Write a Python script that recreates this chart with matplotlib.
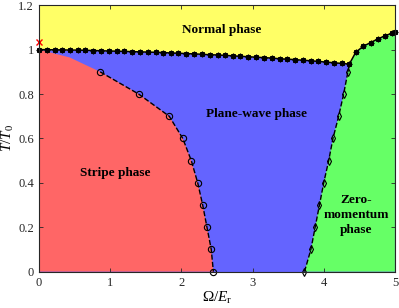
#! /usr/bin/env python3

import matplotlib
matplotlib.use("Agg")
import matplotlib.pyplot as plt

plt.rcParams["font.family"] = ["Liberation Serif", "DejaVu Serif"]
plt.rcParams["mathtext.fontset"] = "custom"
plt.rcParams["mathtext.rm"] = "Liberation Serif"
plt.rcParams["mathtext.it"] = "Liberation Serif:italic"

# normal / ordered boundary (stars)
normal_x = [0.00, 0.11, 0.22, 0.33, 0.44, 0.55, 0.65, 0.76, 0.87, 0.98, 1.09,
            1.20, 1.31, 1.42, 1.53, 1.64, 1.74, 1.85, 1.96, 2.07, 2.18, 2.29,
            2.40, 2.51, 2.62, 2.73, 2.83, 2.94, 3.05, 3.16, 3.27, 3.38, 3.49,
            3.60, 3.71, 3.82, 3.92, 4.03, 4.14, 4.25, 4.36,
            4.45, 4.555, 4.66, 4.76, 4.865, 4.96, 5.00]
normal_y = [1.000, 1.000, 0.999, 0.999, 0.998, 0.998, 0.997, 0.996, 0.995,
            0.994, 0.993, 0.992, 0.991, 0.990, 0.989, 0.988, 0.987, 0.985,
            0.984, 0.982, 0.981, 0.979, 0.977, 0.976, 0.974, 0.972, 0.970,
            0.968, 0.966, 0.964, 0.962, 0.959, 0.957, 0.955, 0.952, 0.950,
            0.947, 0.944, 0.941, 0.938, 0.935,
            0.988, 1.015, 1.032, 1.048, 1.063, 1.074, 1.078]

# stripe / plane-wave boundary (circles)
stripe_x = [0.86, 1.40, 1.83, 2.02, 2.14, 2.23, 2.30, 2.36, 2.42, 2.45]
stripe_y = [0.90, 0.80, 0.70, 0.60, 0.50, 0.40, 0.30, 0.20, 0.10, 0.00]
# unmarked top part of the stripe boundary
stripe_top_x = [0.00, 0.43]
stripe_top_y = [1.00, 0.965]

# plane-wave / zero-momentum boundary (diamonds)
zero_x = [3.73, 3.82, 3.88, 3.94, 4.00, 4.07, 4.13, 4.21, 4.28, 4.34, 4.36]
zero_y = [0.00, 0.10, 0.20, 0.30, 0.40, 0.50, 0.60, 0.70, 0.80, 0.90, 0.935]

red = "#FF6666"
blue = "#6464FF"
green = "#66FF66"
yellow = "#FFFF66"

fig = plt.figure(figsize=(3.99, 3.08), dpi=100)
ax = fig.add_axes([0.0977, 0.118, 0.892, 0.865])
ax.set_facecolor(yellow)

ax.fill_between(normal_x, 0, normal_y, color=blue, lw=0)

green_px = zero_x + normal_x[41:] + [5.0]
green_py = zero_y + normal_y[41:] + [0.0]
ax.fill(green_px, green_py, color=green, lw=0)

red_px = [0.0] + stripe_top_x + stripe_x + [0.0]
red_py = [0.0] + stripe_top_y + stripe_y + [0.0]
ax.fill(red_px, red_py, color=red, lw=0)

ax.plot(normal_x, normal_y, "k-", lw=1.1, marker=(8, 2, 0), ms=4,
        mew=0.9, clip_on=False)
ax.plot(stripe_x, stripe_y, "k--o", lw=1, ms=4.5, mfc="none", mew=0.8,
        clip_on=False)
ax.plot(zero_x[:-1], zero_y[:-1], "k--d", lw=1, ms=3.8, mfc="none",
        mew=0.8, clip_on=False)
ax.plot(zero_x[-2:], zero_y[-2:], "k--", lw=1)
ax.plot([0], [1.035], "rx", ms=5, mew=1, clip_on=False)

ax.text(2.57, 1.09, "Normal phase", ha="center", va="center",
        fontsize=9.5, fontweight="bold")
ax.text(3.05, 0.71, "Plane-wave phase", ha="center", va="center",
        fontsize=9.5, fontweight="bold")
ax.text(1.07, 0.446, "Stripe phase", ha="center", va="center",
        fontsize=9.5, fontweight="bold")
ax.text(4.46, 0.255, "Zero-\nmomentum\nphase", ha="center", va="center",
        fontsize=9.5, fontweight="bold", linespacing=1.3)

ax.set_xlim(0, 5)
ax.set_ylim(0, 1.2)
ax.set_xticks([0, 1, 2, 3, 4, 5])
ax.set_yticks([0, 0.2, 0.4, 0.6, 0.8, 1.0, 1.2])
ax.set_yticklabels(["0", "0.2", "0.4", "0.6", "0.8", "1", "1.2"])
ax.tick_params(direction="in", top=True, right=True, labelsize=9,
               length=3, width=0.6, colors="#262626")
for s in ax.spines.values():
    s.set_color("#262626")
    s.set_linewidth(0.8)
ax.set_xlabel(r"$\Omega/E_\mathrm{r}$", fontsize=11, labelpad=1)
ax.set_ylabel(r"$T/T_0$", fontsize=11, labelpad=2)

plt.savefig("out.png", dpi=100)
